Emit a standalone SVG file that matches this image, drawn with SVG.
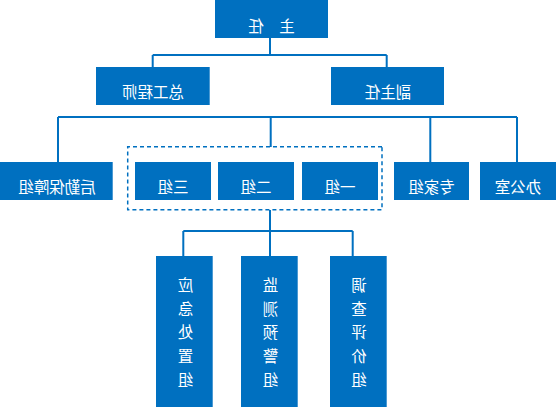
<svg xmlns="http://www.w3.org/2000/svg" width="556" height="408" viewBox="0 0 556 408">
<style>
.box{fill:#0070c0}
.t{fill:#ffffff;font-family:"Noto Sans CJK SC","Noto Sans",sans-serif;font-size:15.5px;text-anchor:middle}
.ln{fill:none;stroke:#0070c0;stroke-width:2}
.dash{fill:none;stroke:#0070c0;stroke-width:1.5;stroke-dasharray:4,3}
</style>
<rect width="556" height="408" fill="#ffffff"/>
<g transform="matrix(-1 0 0 1 556 0)">
<g id="connectors">
<path class="ln" d="M286 38V55M169.3 55H403.3M403.3 55V67M169.3 55V67"/>
<path class="ln" d="M39 117H498M498 117V162M285.3 117V147M125.7 117V162M39 117V162"/>
<path class="ln" d="M286 210V231M203.3 231H372.7M372.7 231V256M286 231V256M203.3 231V256"/>
</g>
<g id="zhuren"><rect class="box" x="228" y="0" width="113" height="38"/><text class="t" x="284.5" y="32">主　任</text></g>
<g id="zonggong"><rect class="box" x="346.3" y="67" width="113.7" height="38"/><text class="t" x="403" y="98">总工程师</text></g>
<g id="fuzhuren"><rect class="box" x="112" y="67" width="113" height="38"/><text class="t" x="168" y="98">副主任</text></g>
<g id="groupframe"><rect class="dash" x="174" y="146.7" width="254.3" height="63"/></g>
<g id="houqin"><rect class="box" x="443.3" y="162" width="112.7" height="38"/><text class="t" x="499" y="193">后勤保障组</text></g>
<g id="sanzu"><rect class="box" x="345" y="162" width="76" height="38"/><text class="t" x="383" y="193">三组</text></g>
<g id="erzu"><rect class="box" x="262" y="162" width="76" height="38"/><text class="t" x="300" y="193">二组</text></g>
<g id="yizu"><rect class="box" x="178" y="162" width="76" height="38"/><text class="t" x="216" y="193">一组</text></g>
<g id="zhuanjia"><rect class="box" x="87" y="162" width="75" height="38"/><text class="t" x="124.5" y="193">专家组</text></g>
<g id="bangong"><rect class="box" x="0" y="162" width="76" height="38"/><text class="t" x="38" y="193">办公室</text></g>
<g id="yingji"><rect class="box" x="343.3" y="256" width="56.7" height="151"/>
<text class="t" x="370.5"><tspan x="370.5" y="291">应</tspan><tspan x="370.5" y="314.5">急</tspan><tspan x="370.5" y="338">处</tspan><tspan x="370.5" y="361.5">置</tspan><tspan x="370.5" y="386">组</tspan></text></g>
<g id="jiance"><rect class="box" x="258.3" y="256" width="56.7" height="151"/>
<text class="t" x="285.5"><tspan x="285.5" y="291">监</tspan><tspan x="285.5" y="314.5">测</tspan><tspan x="285.5" y="338">预</tspan><tspan x="285.5" y="361.5">警</tspan><tspan x="285.5" y="386">组</tspan></text></g>
<g id="diaocha"><rect class="box" x="169.3" y="256" width="56.7" height="151"/>
<text class="t" x="197"><tspan x="197" y="291">调</tspan><tspan x="197" y="314.5">查</tspan><tspan x="197" y="338">评</tspan><tspan x="197" y="361.5">价</tspan><tspan x="197" y="386">组</tspan></text></g>
</g>
</svg>
